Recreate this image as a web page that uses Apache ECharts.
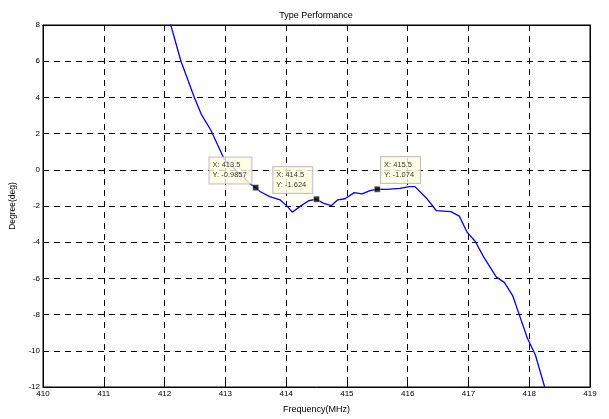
<!DOCTYPE html>
<html>
<head>
<meta charset="utf-8">
<script src="https://cdn.jsdelivr.net/npm/echarts@6/dist/echarts.min.js"></script>
<style>html,body{margin:0;padding:0;background:#fff;}#c{width:609px;height:419px;}</style>
</head>
<body>
<div id="c"></div>
<script>
const freq = [412.06,412.27,412.49,412.61,412.76,412.98,413.2,413.4,413.5,413.57,413.73,413.9,414.02,414.1,414.23,414.37,414.5,414.61,414.74,414.85,414.97,415.12,415.25,415.38,415.5,415.65,415.87,416.03,416.12,416.31,416.47,416.71,416.85,416.98,417.11,417.25,417.46,417.59,417.73,417.85,417.97,418.1,418.28];
const degree = [8.5,6.0,4.0,3.03,2.2,0.6,-0.1,-0.75,-0.9857,-1.2,-1.48,-1.66,-2.02,-2.34,-2.02,-1.71,-1.624,-1.84,-1.98,-1.66,-1.6,-1.26,-1.33,-1.15,-1.074,-1.08,-1.03,-0.93,-0.93,-1.57,-2.25,-2.31,-2.56,-3.46,-3.95,-4.81,-5.93,-6.22,-6.97,-8.14,-9.31,-10.22,-12.3];
const tipX = [413.5, 414.5, 415.5];
const tipY = [-0.9857, -1.624, -1.074];
const tipText = ['X: 413.5\nY: -0.9857', 'X: 414.5\nY: -1.624', 'X: 415.5\nY: -1.074'];
const tipPos = [[-43,-1,36], [-40,-3,33], [7,-3,33]];

const chart = echarts.init(document.getElementById('c'));
const font = 'Liberation Sans, Arial, sans-serif';
const gridLine = {show:true, lineStyle:{color:'#000', type:[6,5], width:1}};
chart.setOption({
  animation:false,
  backgroundColor:'#fff',
  title:{text:'Type Performance', left:316, textAlign:'center', top:11, padding:0, textStyle:{fontSize:9, fontWeight:'normal', color:'#000', fontFamily:font}},
  grid:{left:43, right:19, top:25, bottom:24, show:true, borderColor:'#000', borderWidth:1},
  xAxis:[{type:'value', min:410, max:419, interval:1,
    name:'Frequency(MHz)', nameLocation:'middle', nameGap:18,
    nameTextStyle:{fontSize:9, color:'#000', fontFamily:font},
    axisLine:{show:true, onZero:false, lineStyle:{color:'#000'}},
    axisTick:{show:true, inside:true, length:4, lineStyle:{color:'#000'}},
    axisLabel:{fontSize:8, color:'#000', fontFamily:font, margin:3},
    splitLine:gridLine},
    {type:'value', position:'top', min:410, max:419, interval:1,
    axisLine:{show:true, onZero:false, lineStyle:{color:'#000'}},
    axisTick:{show:true, inside:true, length:4, lineStyle:{color:'#000'}},
    axisLabel:{show:false}, splitLine:{show:false}}],
  yAxis:[{type:'value', min:-12, max:8, interval:2,
    name:'Degree(deg)', nameLocation:'middle', nameGap:22,
    nameTextStyle:{fontSize:8.5, color:'#000', fontFamily:font},
    axisLine:{show:true, onZero:false, lineStyle:{color:'#000'}},
    axisTick:{show:true, inside:true, length:4, lineStyle:{color:'#000'}},
    axisLabel:{fontSize:8, color:'#000', fontFamily:font, margin:3},
    splitLine:gridLine},
    {type:'value', position:'right', min:-12, max:8, interval:2,
    axisLine:{show:true, onZero:false, lineStyle:{color:'#000'}},
    axisTick:{show:true, inside:true, length:4, lineStyle:{color:'#000'}},
    axisLabel:{show:false}, splitLine:{show:false}}],
  series:[
    {type:'line', data:freq.map((x,i)=>[x,degree[i]]), showSymbol:false, symbol:'none', clip:true,
     lineStyle:{color:'#0000ff', width:1.3}, z:2},
    {type:'scatter', symbol:'rect', symbolSize:6, z:5, zlevel:1,
     itemStyle:{color:'#000', borderColor:'#ffffcc', borderWidth:0.5},
     data:tipX.map((x,i)=>({value:[x,tipY[i]],
       label:{show:true, formatter:tipText[i], position:[tipPos[i][0],tipPos[i][1]], align:'left', verticalAlign:'bottom',
         width:tipPos[i][2], fontSize:7.5, lineHeight:10, color:'#000', fontFamily:font,
         backgroundColor:'#ffffe1', borderColor:'#b4b4b4', borderWidth:1, padding:[3,3,3,3]}}))}
  ]
});
</script>
</body>
</html>
